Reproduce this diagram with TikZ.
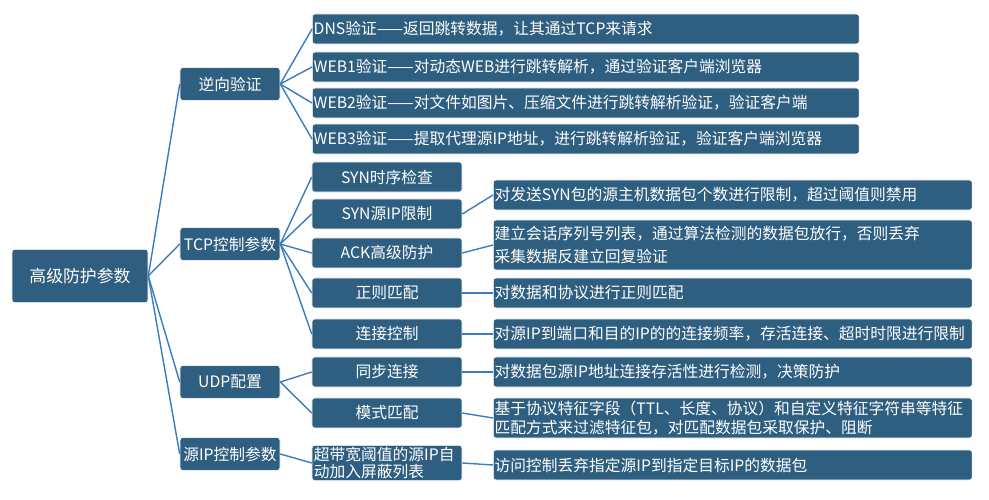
\documentclass[tikz,border=0pt]{standalone}
\usepackage{fontspec}
\newfontfamily\cjk{Noto Sans CJK SC}
\usetikzlibrary{positioning}
\definecolor{boxblue}{HTML}{2F5F80}
\definecolor{lineblue}{HTML}{3A7CC0}
\tikzset{
    box/.style={draw=white, fill=boxblue, text=white, rounded corners=2pt, inner sep=1pt,
        font=\cjk\fontsize{11.2}{12.5}\selectfont},
    desc/.style={box, align=left, anchor=west, text width=#1, minimum height=0.75cm},
    link/.style={lineblue, line width=1pt}
}
\begin{document}
\begin{tikzpicture}[x=0.025cm, y=-0.025cm]
    \useasboundingbox (0,0) rectangle (989,500);

    % Root and branches
    \node[box, minimum width=3.4cm, minimum height=1.33cm, font=\cjk\fontsize{12}{13}\selectfont] (root) at (80,276) {高级防护参数};
    \node[box, minimum width=2.5cm, minimum height=0.82cm] (rev) at (230,84) {逆向验证};
    \node[box, minimum width=2.5cm, minimum height=0.82cm] (tcp) at (230,244) {TCP控制参数};
    \node[box, minimum width=2.5cm, minimum height=0.82cm] (udp) at (230,382) {UDP配置};
    \node[box, minimum width=2.5cm, minimum height=0.82cm] (src) at (230,454) {源IP控制参数};

    % Reverse verification
    \node[desc=13.6cm] (dns) at (312,29) {DNS验证——返回跳转数据，让其通过TCP来请求};
    \node[desc=13.6cm] (web1) at (312,67) {WEB1验证——对动态WEB进行跳转解析，通过验证客户端浏览器};
    \node[desc=13.6cm] (web2) at (312,103) {WEB2验证——对文件如图片、压缩文件进行跳转解析验证，验证客户端};
    \node[desc=13.6cm] (web3) at (312,139) {WEB3验证——提取代理源IP地址，进行跳转解析验证，验证客户端浏览器};

    % Second level
    \node[box, minimum width=3.75cm, minimum height=0.75cm] (syn) at (387,177) {SYN时序检查};
    \node[box, minimum width=3.75cm, minimum height=0.75cm] (synip) at (387,214) {SYN源IP限制};
    \node[box, minimum width=3.75cm, minimum height=0.75cm] (ack) at (387,253) {ACK高级防护};
    \node[box, minimum width=3.75cm, minimum height=0.75cm] (regex) at (387,293) {正则匹配};
    \node[box, minimum width=3.75cm, minimum height=0.75cm] (conn) at (387,334) {连接控制};
    \node[box, minimum width=3.75cm, minimum height=0.75cm] (sync) at (387,372) {同步连接};
    \node[box, minimum width=3.75cm, minimum height=0.75cm] (mode) at (387,413) {模式匹配};
    \node[box, minimum width=3.75cm, minimum height=0.88cm, text width=3.65cm, align=left, font=\cjk\fontsize{11.2}{12}\selectfont] (band) at (387,463) {超带宽阈值的源IP自\\动加入屏蔽列表};

    % Third level
    \node[desc=11.9cm] (dsynip) at (493,195) {对发送SYN包的源主机数据包个数进行限制，超过阈值则禁用};
    \node[desc=11.9cm, minimum height=1.25cm, font=\cjk\fontsize{11.2}{17}\selectfont] (dack) at (493,245) {建立会话序列号列表，通过算法检测的数据包放行，否则丢弃\\采集数据反建立回复验证};
    \node[desc=11.9cm] (dregex) at (493,293) {对数据和协议进行正则匹配};
    \node[desc=11.9cm] (dconn) at (493,334) {对源IP到端口和目的IP的的连接频率，存活连接、超时时限进行限制};
    \node[desc=11.9cm] (dsync) at (493,372) {对数据包源IP地址连接存活性进行检测，决策防护};
    \node[desc=11.9cm, minimum height=1cm, font=\cjk\fontsize{11.2}{13}\selectfont] (dmode) at (493,418) {基于协议特征字段（TTL、长度、协议）和自定义特征字符串等特征\\匹配方式来过滤特征包，对匹配数据包采取保护、阻断};
    \node[desc=11.9cm] (dband) at (493,465) {访问控制丢弃指定源IP到指定目标IP的数据包};

    % Connectors
    \foreach \c in {rev, tcp, udp, src}
        \draw[link] (root.east) -- (\c.west);
    \foreach \c in {dns, web1, web2, web3}
        \draw[link] (rev.east) -- (\c.west);
    \foreach \c in {syn, synip, ack, regex, conn}
        \draw[link] (tcp.east) -- (\c.west);
    \foreach \c in {sync, mode}
        \draw[link] (udp.east) -- (\c.west);
    \draw[link] (src.east) -- (band.west);
    \draw[link] (synip.east) -- (dsynip.west);
    \draw[link] (ack.east) -- (dack.west);
    \draw[link] (regex.east) -- (dregex.west);
    \draw[link] (conn.east) -- (dconn.west);
    \draw[link] (sync.east) -- (dsync.west);
    \draw[link] (mode.east) -- (dmode.west);
    \draw[link] (band.east) -- (dband.west);
\end{tikzpicture}
\end{document}
